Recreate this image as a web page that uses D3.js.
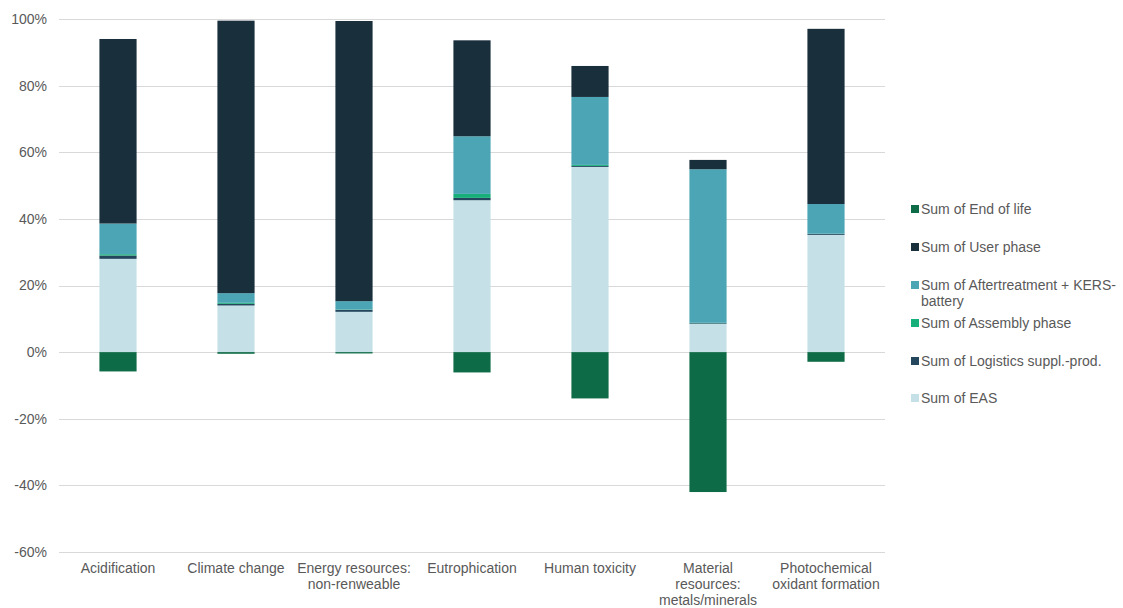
<!DOCTYPE html>
<html>
<head>
<meta charset="utf-8">
<script src="https://cdn.jsdelivr.net/npm/d3@7"></script>
<style>
  html, body { margin: 0; padding: 0; background: #fff; }
  svg text { font-family: "Liberation Sans", Arial, sans-serif; fill: #595959; }
</style>
</head>
<body>
<svg id="chart" width="1123" height="608"></svg>
<script>
// Impact categories (x axis), each split into multi-line labels
const categories = [
  "Acidification",
  "Climate change",
  "Energy resources: non-renweable",
  "Eutrophication",
  "Human toxicity",
  "Material resources: metals/minerals",
  "Photochemical oxidant formation"
];
const categoryLines = [
  ["Acidification"],
  ["Climate change"],
  ["Energy resources:", "non-renweable"],
  ["Eutrophication"],
  ["Human toxicity"],
  ["Material", "resources:", "metals/minerals"],
  ["Photochemical", "oxidant formation"]
];

// Series shares in percent, stacked bottom to top
const seriesNames = [
  "Sum of EAS",
  "Sum of Logistics suppl.-prod.",
  "Sum of Assembly phase",
  "Sum of Aftertreatment + KERS-battery",
  "Sum of User phase",
  "Sum of End of life"
];
const eas            = [28.0, 14.0, 12.1, 45.6, 55.6,  8.5, 35.2];
const logistics      = [ 1.0,  0.5,  0.6,  0.7,  0.3,  0.2,  0.3];
const assembly       = [ 0.4,  0.3,  0.1,  1.2,  0.3,  0.1,  0.05];
const aftertreatment = [ 9.2,  2.9,  2.5, 17.3, 20.4, 46.1,  8.9];
const userPhase      = [55.4, 81.8, 84.1, 28.8,  9.3,  2.8, 52.6];
const endOfLife      = [-5.8, -0.5, -0.4, -6.1, -13.9, -42.0, -2.9];

const seriesValues = [eas, logistics, assembly, aftertreatment, userPhase, endOfLife];
const seriesColors = ["#c5e1e7", "#24475e", "#17b07a", "#4ba5b5", "#1a2f3c", "#0e6b47"];

// Legend order (top to bottom)
const legendOrder = [5, 4, 3, 2, 1, 0];
const legendLines = {
  3: ["Sum of Aftertreatment + KERS-", "battery"]
};

const yTicks = [-60, -40, -20, 0, 20, 40, 60, 80, 100];

const svg = d3.select("#chart");
const plot = { left: 59, right: 885, top: 19, bottom: 552 };
const fontSize = 14;

const x = d3.scaleBand()
  .domain(categories)
  .range([plot.left, plot.right])
  .paddingInner(0.685)
  .paddingOuter(0.3425);

const y = d3.scaleLinear()
  .domain([-60, 100])
  .range([plot.bottom, plot.top]);

// Gridlines
svg.append("g")
  .selectAll("line")
  .data(yTicks)
  .join("line")
  .attr("x1", plot.left)
  .attr("x2", plot.right)
  .attr("y1", d => Math.round(y(d)) + 0.5)
  .attr("y2", d => Math.round(y(d)) + 0.5)
  .attr("stroke", "#d9d9d9")
  .attr("stroke-width", 1);

// Y axis labels
const yAxis = d3.axisLeft(y)
  .tickValues(yTicks)
  .tickFormat(d => d + "%")
  .tickSize(0)
  .tickPadding(12);
const yg = svg.append("g")
  .attr("transform", `translate(${plot.left},0)`)
  .call(yAxis);
yg.select(".domain").remove();
yg.selectAll("text")
  .attr("font-size", fontSize)
  .style("fill", "#595959")
  .style("font-family", "'Liberation Sans', Arial, sans-serif");

// Stacked bars: positives stack upward from 0, negatives downward
const rects = [];
categories.forEach((c, i) => {
  let pos = 0, neg = 0;
  seriesValues.forEach((vals, s) => {
    const v = vals[i];
    let y0, y1;
    if (v >= 0) { y0 = pos; y1 = pos + v; pos = y1; }
    else { y0 = neg + v; y1 = neg; neg = y0; }
    rects.push({ c, s, y0, y1 });
  });
});

svg.append("g")
  .selectAll("rect")
  .data(rects)
  .join("rect")
  .attr("x", d => x(d.c))
  .attr("width", x.bandwidth())
  .attr("y", d => y(d.y1))
  .attr("height", d => Math.max(0, y(d.y0) - y(d.y1)))
  .attr("fill", d => seriesColors[d.s]);

// X axis category labels
const xg = svg.append("g");
categories.forEach((c, i) => {
  const t = xg.append("text")
    .attr("x", x(c) + x.bandwidth() / 2)
    .attr("y", 573)
    .attr("text-anchor", "middle")
    .attr("font-size", fontSize);
  categoryLines[i].forEach((ln, k) => {
    t.append("tspan")
      .attr("x", x(c) + x.bandwidth() / 2)
      .attr("dy", k === 0 ? 0 : 16)
      .text(ln);
  });
});

// Legend
const legendY = [209, 247, 285, 323, 361, 398];
const lg = svg.append("g");
legendOrder.forEach((s, k) => {
  const cy = legendY[k];
  lg.append("rect")
    .attr("x", 911)
    .attr("y", cy - 4)
    .attr("width", 8)
    .attr("height", 8)
    .attr("fill", seriesColors[s]);
  const lines = legendLines[s] || [seriesNames[s]];
  const t = lg.append("text")
    .attr("x", 921)
    .attr("y", cy + 5)
    .attr("font-size", fontSize);
  lines.forEach((ln, j) => {
    t.append("tspan")
      .attr("x", 921)
      .attr("dy", j === 0 ? 0 : 16)
      .text(ln);
  });
});
</script>
</body>
</html>
